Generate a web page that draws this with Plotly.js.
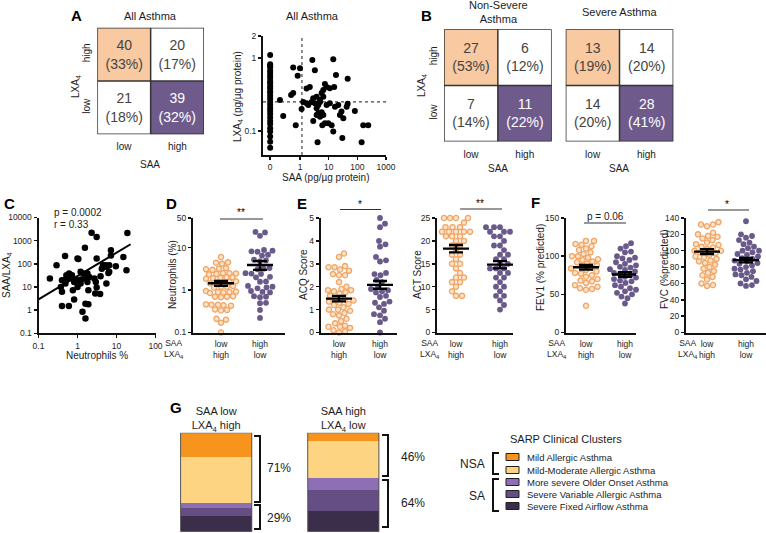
<!DOCTYPE html>
<html><head><meta charset="utf-8">
<script src="https://cdn.plot.ly/plotly-3.0.1.min.js"></script>
<style>html,body{margin:0;padding:0;background:#fff}#chart{width:766px;height:533px}</style>
</head><body><div id="chart"></div>
<script>
// ================= DATA =================
const levels = ['low', 'high'];
// 2x2 tables: rows = LXA4 [low, high], cols = SAA [low, high]
const countsAll = [[21, 39], [40, 20]];
const pctAll    = [[18, 32], [33, 17]];
const countsNSA = [[7, 11], [27, 6]];
const pctNSA    = [[14, 22], [53, 12]];
const countsSA  = [[14, 28], [13, 14]];
const pctSA     = [[20, 41], [19, 20]];
const cellClass = [[0, 2], [1, 0]]; // 0 = plain, 1 = SAA low/LXA4 high, 2 = SAA high/LXA4 low

// Panel A scatter (pg/ug protein)
const lxaAtSaaZero = [1.10, 0.82, 0.78, 0.74, 0.67, 0.62, 0.57, 0.53, 0.48, 0.45, 0.41, 0.385, 0.35, 0.33, 0.30, 0.275, 0.25, 0.227, 0.205, 0.188, 0.17, 0.153, 0.137, 0.124, 0.109, 0.098, 0.084, 0.071, 0.059];
const saaA = [0.2, 0.26, 0.58, 0.83, 1.0, 0.49, 0.58, 0.71, 1.14, 2.7, 3.3, 1.7, 2.2, 1.3, 1.7, 1.95, 2.55, 2.9, 3.3, 3.8, 4.35, 3.8, 5, 5.7, 6.5, 7.4, 6.5, 8.5, 11, 15.6, 14.5, 18, 46, 4.35, 5, 5.7, 3.8, 6.5, 2.9, 6.0, 7.4, 9.7, 8.5, 11, 16.6, 21.6, 28, 24.7, 32.4, 42.5, 46, 82, 30, 14.5, 4.1, 141, 161, 240, 12.7, 5];
const lxaA = [0.266, 0.16, 0.74, 0.57, 0.72, 0.31, 0.33, 0.12, 0.2, 0.94, 0.68, 0.38, 0.40, 0.25, 0.24, 0.227, 0.25, 0.28, 0.24, 0.295, 0.227, 0.205, 0.25, 0.33, 0.365, 0.44, 0.295, 0.40, 0.385, 0.40, 0.96, 0.585, 0.52, 0.175, 0.157, 0.18, 0.165, 0.165, 0.137, 0.12, 0.127, 0.127, 0.227, 0.24, 0.215, 0.227, 0.184, 0.165, 0.149, 0.215, 0.236, 0.188, 0.08, 0.098, 0.07, 0.07, 0.12, 0.12, 0.12, 0.265];
const saaCut = 1.17, lxaCut = 0.25;

// Panel C
const neutC = [0.196, 0.29, 0.48, 0.40, 0.49, 0.375, 0.40, 0.49, 0.61, 0.61, 0.72, 0.52, 0.82, 0.76, 0.82, 0.40, 0.6, 1.0, 1.05, 1.2, 1.0, 1.0, 1.2, 1.25, 1.4, 1.55, 1.8, 1.6, 1.8, 2.0, 1.6, 1.34, 1.9, 1.6, 1.9, 2.3, 3.1, 2.7, 2.95, 2.85, 3.1, 3.1, 3.8, 3.9, 4.2, 4.5, 5.3, 5.5, 6.2, 6.5, 7.2, 7.2, 6.5, 9.6, 5.5, 15, 18, 19];
const ratioC = [23, 87, 220, 19.7, 21, 10, 6.2, 14, 23, 38, 32, 32, 16.6, 7.3, 2.9, 1.5, 1.5, 169, 160, 45, 19.7, 10, 14, 21, 38, 500, 38, 23, 16.6, 27, 1.9, 0.85, 1.8, 0.44, 7.3, 2200, 1440, 23, 16.6, 5.2, 169, 9.5, 5.0, 29, 62, 87, 87, 14, 40, 87, 385, 231, 45, 79, 75, 198, 53, 2150];
const fitX = [0.1, 23], fitY = [2.9, 700];
const statsC = ['p = 0.0002', 'r = 0.33'];

// Panel D-F groups: [SAA low / LXA4 high, SAA high / LXA4 low]
const neutLow = [6.0, 4.4, 4.2, 4.5, 3.2, 3.3, 3.1, 3.0, 2.5, 2.4, 2.45, 2.35, 2.5, 2.0, 1.9, 1.95, 1.85, 2.0, 1.5, 1.55, 1.45, 1.5, 1.6, 1.2, 1.25, 1.15, 1.2, 0.9, 0.92, 0.88, 0.95, 0.9, 0.85, 0.7, 0.72, 0.68, 0.7, 0.45, 0.44, 0.46, 0.45, 0.43, 0.34, 0.33, 0.35, 0.21, 0.2, 0.17, 0.1];
const neutHigh = [22.8, 23.5, 19, 8.5, 8.2, 8.8, 8.0, 6.5, 6.8, 5.0, 5.2, 4.8, 3.2, 3.3, 3.1, 2.45, 2.5, 2.4, 2.05, 2.0, 1.57, 1.6, 1.2, 1.15, 1.25, 1.1, 0.91, 0.88, 0.95, 0.7, 0.72, 0.68, 0.49, 0.5, 0.34, 0.22];
const neutMean = [1.45, 3.9], neutSem = [0.2, 0.9];
const acqLow = [3.45, 3.3, 2.9, 2.85, 2.85, 2.75, 2.7, 2.55, 2.5, 2.5, 2.2, 2.0, 1.9, 1.85, 1.85, 1.8, 1.75, 1.7, 1.6, 1.5, 1.45, 1.4, 1.35, 1.3, 1.25, 1.2, 1.1, 1.0, 1.0, 0.95, 0.85, 0.8, 0.75, 0.6, 0.5, 0.4, 0.3, 0.25, 0.25, 0.2, 0.1, 0.05, 0.0];
const acqHigh = [5.0, 4.75, 4.6, 4.0, 3.85, 3.75, 3.3, 3.15, 3.1, 2.6, 2.55, 2.5, 2.3, 2.2, 2.0, 1.9, 1.85, 1.8, 1.75, 1.6, 1.55, 1.35, 1.3, 1.25, 1.1, 0.95, 0.8, 0.75, 0.6, 0.45, 0.0];
const acqMean = [1.48, 2.08], acqSem = [0.12, 0.17];
const actLow = [25, 25, 25, 25, 24, 23, 23, 23, 22, 22, 22, 22, 22, 21, 21, 21, 20, 20, 19, 19, 18, 17, 17, 16, 15, 15, 14, 13, 12, 12, 11, 11, 10, 9, 8, 8];
const actHigh = [23, 23, 23, 23, 22, 22, 22, 21, 21, 20, 19, 19, 18, 17, 17, 16, 16, 15, 15, 14, 14, 14, 13, 13, 12, 12, 11, 10, 10, 9, 8, 8, 7, 6, 5];
const actMean = [18.3, 14.8], actSem = [0.8, 0.8];
const fevLow = [120, 120, 116, 115, 113, 110, 108, 105, 103, 100, 100, 98, 96, 95, 93, 92, 90, 88, 87, 85, 84, 82, 80, 78, 77, 75, 73, 70, 68, 67, 65, 62, 60, 58, 57, 56, 35];
const fevHigh = [117, 113, 110, 106, 105, 100, 98, 97, 95, 92, 90, 88, 86, 85, 83, 82, 80, 78, 77, 75, 73, 72, 70, 68, 67, 65, 63, 62, 60, 58, 56, 54, 52, 50, 47, 45, 38];
const fevMean = [85.5, 76], fevSem = [3, 3];
const fvcLow = [135, 132, 132, 130, 122, 120, 118, 117, 115, 113, 110, 108, 107, 105, 104, 102, 100, 100, 98, 97, 95, 93, 92, 90, 88, 87, 85, 83, 80, 78, 75, 73, 70, 68, 65, 60, 58, 57];
const fvcHigh = [136, 120, 118, 116, 113, 110, 108, 105, 103, 100, 100, 98, 96, 95, 93, 91, 90, 88, 87, 85, 84, 82, 80, 78, 77, 75, 73, 71, 70, 68, 65, 63, 60, 58, 57];
const fvcMean = [99, 88.5], fvcSem = [3, 2.8];

// Panel G
const groupLabels = ['SAA low<br>LXA<sub>4</sub> high', 'SAA high<br>LXA<sub>4</sub> low'];
const clusters = ['Mild Allergic Asthma', 'Mild-Moderate Allergic Asthma', 'More severe Older Onset Asthma', 'Severe Variable Allergic Asthma', 'Severe Fixed Airflow Asthma'];
const clusterColors = ['#F7941E', '#FDD481', '#8E6FB5', '#654E83', '#3A2E4A'];
const pctLowHigh = [25, 46, 5, 8, 16];
const pctHighLow = [8, 38, 12, 21, 21];
const nsaLabels = ['71%', '46%'], saLabels = ['29%', '64%'];

// ================= LAYOUT HELPERS =================
const W = 766, H = 533;
const FONT = '"Liberation Sans", Arial, Helvetica, sans-serif';
const TXT = '#1c1c1c';
const ORANGE_CELL = '#F9C9A1', PURPLE_CELL = '#6E5B8C';
const DOT_OR_FILL = '#FDE2C6', DOT_OR_LINE = '#EFA566', DOT_PU = '#6A5A8B';
const TICKF = {size: 8.5, color: TXT};
const traces = [];
const layout = {
  width: W, height: H, margin: {l: 0, r: 0, t: 0, b: 0, pad: 0},
  paper_bgcolor: '#ffffff', plot_bgcolor: 'rgba(0,0,0,0)',
  font: {family: FONT, size: 9, color: TXT},
  showlegend: false, barmode: 'stack', annotations: [], shapes: []
};
const px = x => x / W, py = y => 1 - y / H;
function axName(n, c) { return c + 'axis' + (n === 1 ? '' : n); }
function axId(n, c) { return c + (n === 1 ? '' : n); }
function setAxes(n, xpx, ypx, xopt, yopt) {
  layout[axName(n, 'x')] = Object.assign({domain: [px(xpx[0]), px(xpx[1])], anchor: axId(n, 'y'), showgrid: false, zeroline: false, fixedrange: true}, xopt);
  layout[axName(n, 'y')] = Object.assign({domain: [py(ypx[1]), py(ypx[0])], anchor: axId(n, 'x'), showgrid: false, zeroline: false, fixedrange: true}, yopt);
}
function ann(text, x, y, opts) {
  layout.annotations.push(Object.assign({text: text, x: px(x), y: py(y), xref: 'paper', yref: 'paper', showarrow: false, xanchor: 'center', yanchor: 'middle', font: {size: 10, color: TXT}}, opts || {}));
}
function lineP(x0, y0, x1, y1, w, c) {
  layout.shapes.push({type: 'line', xref: 'paper', yref: 'paper', x0: px(x0), y0: py(y0), x1: px(x1), y1: py(y1), line: {color: c || '#333', width: w || 1.2}});
}
function bracket(xEdge, xTip, y0, y1, w) {
  layout.shapes.push({type: 'path', xref: 'paper', yref: 'paper', line: {color: '#111', width: w || 2},
    path: 'M' + px(xEdge) + ',' + py(y0) + ' L' + px(xTip) + ',' + py(y0) + ' L' + px(xTip) + ',' + py(y1) + ' L' + px(xEdge) + ',' + py(y1)});
}
const axisLine = {showline: true, linewidth: 2, linecolor: '#111'};
const yTicks = {ticks: 'outside', ticklen: 3, tickwidth: 1.5, tickcolor: '#111', tickfont: TICKF};

// ================= 2x2 TABLES =================
function table(n, xpx, ypx, counts, pcts, showY) {
  traces.push({type: 'heatmap', xaxis: axId(n, 'x'), yaxis: axId(n, 'y'), x: [0, 1], y: [0, 1], z: cellClass,
    text: counts.map((r, i) => r.map((c, j) => c + '<br>(' + pcts[i][j] + '%)')), texttemplate: '%{text}',
    textfont: {size: 14, family: FONT}, zmin: 0, zmax: 2, showscale: false, hoverinfo: 'skip',
    colorscale: [[0, '#ffffff'], [0.33, '#ffffff'], [0.34, ORANGE_CELL], [0.66, ORANGE_CELL], [0.67, PURPLE_CELL], [1, PURPLE_CELL]]});
  setAxes(n, xpx, ypx,
    {range: [-0.5, 1.5], tickvals: [0, 1], ticktext: levels, ticks: 'outside', ticklen: 3, tickcolor: 'rgba(0,0,0,0)', tickfont: {size: 10, color: TXT}},
    {range: [-0.5, 1.5], tickvals: [0, 1], ticktext: levels, showticklabels: showY, tickangle: -90, ticks: 'outside', ticklen: 2, tickcolor: 'rgba(0,0,0,0)', tickfont: {size: 10, color: TXT}});
  const xr = axId(n, 'x'), yr = axId(n, 'y');
  layout.shapes.push({type: 'rect', xref: xr, yref: yr, x0: -0.5, x1: 1.5, y0: -0.5, y1: 1.5, line: {color: '#333', width: 1.5}});
  layout.shapes.push({type: 'line', xref: xr, yref: yr, x0: 0.5, x1: 0.5, y0: -0.5, y1: 1.5, line: {color: '#333', width: 1.5}});
  layout.shapes.push({type: 'line', xref: xr, yref: yr, x0: -0.5, x1: 1.5, y0: 0.5, y1: 0.5, line: {color: '#333', width: 1.5}});
}
table(1, [97.3, 204], [27.7, 134.3], countsAll, pctAll, true);
table(3, [444, 551.7], [29.3, 141.5], countsNSA, pctNSA, true);
table(4, [565.7, 673.3], [29.3, 141.5], countsSA, pctSA, false);
ann('All Asthma', 150, 16, {font: {size: 11, color: TXT}});
ann('SAA', 150, 164, {font: {size: 10, color: TXT}});
ann('LXA<sub>4</sub>', 76, 87, {textangle: -90, font: {size: 10, color: TXT}});
ann('Non-Severe<br>Asthma', 498, 12, {font: {size: 11, color: TXT}});
ann('Severe Asthma', 619, 12, {font: {size: 11, color: TXT}});
ann('SAA', 498, 168, {font: {size: 10, color: TXT}});
ann('SAA', 619, 168, {font: {size: 10, color: TXT}});
ann('LXA<sub>4</sub>', 422, 86, {textangle: -90, font: {size: 10, color: TXT}});

// ================= SCATTER A =================
const zeroPos = -1.04; // broken-axis slot where SAA = 0 sits
const xA = v => v === 0 ? zeroPos : Math.log10(v);
const yRangeA = [-1.33, Math.log10(2)];
setAxes(2, [263, 386], [36, 155],
  Object.assign({range: [-1.29, 3.0], tickvals: [zeroPos, 0, 1, 2, 3], ticktext: ['0', '1', '10', '100', '1000'], ticks: 'outside', ticklen: 3, tickwidth: 1.5, tickcolor: '#111', tickfont: TICKF}, axisLine),
  Object.assign({type: 'log', range: yRangeA, tickvals: [0.1, 1, 2], ticktext: ['0.1', '1', '2']}, yTicks, axisLine));
traces.push({type: 'scatter', mode: 'lines', xaxis: 'x2', yaxis: 'y2', x: [xA(saaCut), xA(saaCut)], y: [Math.pow(10, yRangeA[0]), 2], line: {color: '#444', width: 1.2, dash: 'dot'}, hoverinfo: 'skip'});
traces.push({type: 'scatter', mode: 'lines', xaxis: 'x2', yaxis: 'y2', x: [-1.29, 3.0], y: [lxaCut, lxaCut], line: {color: '#444', width: 1.2, dash: 'dot'}, hoverinfo: 'skip', cliponaxis: false});
traces.push({type: 'scatter', mode: 'markers', xaxis: 'x2', yaxis: 'y2', x: lxaAtSaaZero.map(() => xA(0)), y: lxaAtSaaZero, marker: {color: '#000', size: 6}, cliponaxis: false});
traces.push({type: 'scatter', mode: 'markers', xaxis: 'x2', yaxis: 'y2', x: saaA.map(xA), y: lxaA, marker: {color: '#000', size: 6}, cliponaxis: false});
ann('All Asthma', 312, 16, {font: {size: 11, color: TXT}});
ann('SAA (pg/µg protein)', 325, 177, {font: {size: 10, color: TXT}});
ann('LXA<sub>4</sub> (pg/µg protein)', 238, 97, {textangle: -90, font: {size: 10, color: TXT}});

// ================= PANEL C =================
setAxes(5, [38.5, 155.5], [217.5, 333.3],
  Object.assign({type: 'log', range: [-1, 2], tickvals: [0.1, 1, 10, 100], ticktext: ['0.1', '1', '10', '100'], ticks: 'outside', ticklen: 3, tickwidth: 1.5, tickcolor: '#111', tickfont: TICKF}, axisLine),
  Object.assign({type: 'log', range: [-1, 4], tickvals: [0.1, 1, 10, 100, 1000, 10000], ticktext: ['0.1', '1', '10', '100', '1000', '10000']}, yTicks, axisLine));
traces.push({type: 'scatter', mode: 'markers', xaxis: 'x5', yaxis: 'y5', x: neutC, y: ratioC, marker: {color: '#000', size: 6.5}, cliponaxis: false});
traces.push({type: 'scatter', mode: 'lines', xaxis: 'x5', yaxis: 'y5', x: fitX, y: fitY, line: {color: '#000', width: 2}});
ann(statsC[0], 52, 213, {xanchor: 'left', font: {size: 10, color: TXT}});
ann(statsC[1], 52, 224, {xanchor: 'left', font: {size: 10, color: TXT}});
ann('SAA/LXA<sub>4</sub>', 7, 275, {textangle: -90, font: {size: 10, color: TXT}});
ann('Neutrophils %', 97, 355, {font: {size: 10, color: TXT}});

// ================= DOT PLOTS D-F =================
function swarm(values, yToPx, diam, maxHalf) {
  const order = values.map((v, i) => i).sort((a, b) => values[a] - values[b]);
  const placed = [], out = new Array(values.length);
  for (const i of order) {
    const yp = yToPx(values[i]);
    let best = 0, bestD = -1;
    for (let k = 0; k < 4 * maxHalf + 1; k++) {
      const cand = (k % 2 === 1 ? 1 : -1) * Math.ceil(k / 2) * 0.5;
      let minD = Infinity;
      for (const p of placed) {
        const dx = p[0] - cand, dy = p[1] - yp;
        minD = Math.min(minD, dx * dx + dy * dy);
      }
      if (minD >= diam * diam) { best = cand; bestD = minD; break; }
      if (minD > bestD) { bestD = minD; best = cand; }
    }
    placed.push([best, yp]);
    out[i] = best;
  }
  return out;
}
function dotPanel(n, cfg) {
  const unit = cfg.cats[1] - cfg.cats[0];
  const xr = [-(cfg.cats[0] - cfg.xpx[0]) / unit, 1 + (cfg.xpx[1] - cfg.cats[1]) / unit];
  const hPx = cfg.ypx[1] - cfg.ypx[0];
  const isLog = cfg.yType === 'log';
  const yToPx = v => ((isLog ? Math.log10(v) : v) - cfg.yRange[0]) / (cfg.yRange[1] - cfg.yRange[0]) * hPx;
  setAxes(n, cfg.xpx, cfg.ypx,
    Object.assign({range: xr, tickvals: [0, 1], ticktext: cfg.xticks, ticks: '', ticklabelstandoff: 2, tickfont: TICKF}, axisLine),
    Object.assign({type: cfg.yType || 'linear', range: cfg.yRange, tickvals: cfg.tickvals, ticktext: cfg.tickvals.map(String)}, yTicks, axisLine));
  const groups = [cfg.low, cfg.high];
  groups.forEach((vals, g) => {
    const offs = swarm(vals, yToPx, 5.8, 15);
    traces.push({type: 'scatter', mode: 'markers', xaxis: axId(n, 'x'), yaxis: axId(n, 'y'),
      x: offs.map(o => g + o / unit), y: vals, cliponaxis: false,
      marker: g === 0 ? {size: 5.2, color: DOT_OR_FILL, line: {color: DOT_OR_LINE, width: 1.3}} : {size: 5.8, color: DOT_PU, line: {width: 0}}});
  });
  const hm = 13 / unit, hs = 7 / unit, xs = [], ys = [];
  cfg.mean.forEach((m, g) => {
    const s = cfg.sem[g];
    xs.push(g - hm, g + hm, null, g - hs, g + hs, null, g - hs, g + hs, null, g, g, null);
    ys.push(m, m, null, m + s, m + s, null, m - s, m - s, null, m - s, m + s, null);
  });
  traces.push({type: 'scatter', mode: 'lines', xaxis: axId(n, 'x'), yaxis: axId(n, 'y'), x: xs, y: ys, line: {color: '#000', width: 2.3}, hoverinfo: 'skip', cliponaxis: false});
}
const xtk = ['low<br>high', 'high<br>low'];
dotPanel(6, {xpx: [193, 285], cats: [221, 260], ypx: [218, 332.5], yType: 'log', yRange: [-1, Math.log10(50)], tickvals: [0.1, 1, 10, 50], low: neutLow, high: neutHigh, mean: neutMean, sem: neutSem, xticks: xtk});
dotPanel(7, {xpx: [320.7, 397], cats: [339, 380], ypx: [218, 332.5], yRange: [0, 5], tickvals: [0, 1, 2, 3, 4, 5], low: acqLow, high: acqHigh, mean: acqMean, sem: acqSem, xticks: xtk});
dotPanel(8, {xpx: [437, 513], cats: [456, 500], ypx: [218, 332.5], yRange: [0, 25], tickvals: [0, 5, 10, 15, 20, 25], low: actLow, high: actHigh, mean: actMean, sem: actSem, xticks: xtk});
dotPanel(9, {xpx: [566, 636], cats: [586, 625], ypx: [218, 332.5], yRange: [0, 150], tickvals: [0, 50, 100, 150], low: fevLow, high: fevHigh, mean: fevMean, sem: fevSem, xticks: xtk});
dotPanel(10, {xpx: [686, 766], cats: [707, 746], ypx: [218, 332.5], yRange: [0, 140], tickvals: [0, 20, 40, 60, 80, 100, 120, 140], low: fvcLow, high: fvcHigh, mean: fvcMean, sem: fvcSem, xticks: xtk});

// row labels
[174, 430, 557, 688].forEach(x => ann('SAA<br>LXA<sub>4</sub>', x, 349, {font: {size: 8.5, color: TXT}}));
// y titles
ann('Neutrophils (%)', 172, 275, {textangle: -90});
ann('ACQ Score', 303, 275, {textangle: -90});
ann('ACT Score', 417, 275, {textangle: -90});
ann('FEV1 (% predicted)', 540, 268, {textangle: -90});
ann('FVC (%predicted)', 664, 270, {textangle: -90});
// significance
ann('**', 241, 212, {font: {size: 10, color: '#000'}}); lineP(220, 219, 263, 219, 1);
ann('*', 360, 204, {font: {size: 10, color: '#000'}}); lineP(340, 209.5, 381, 209.5, 1);
ann('**', 480, 203, {font: {size: 10, color: '#000'}}); lineP(460, 209, 502, 209, 1);
ann('p = 0.06', 605, 216, {font: {size: 10, color: TXT}}); lineP(584, 223, 626, 223, 1);
ann('*', 727, 204, {font: {size: 10, color: '#000'}}); lineP(708, 210, 749, 210, 1);

// ================= PANEL G =================
setAxes(11, [160, 400], [432.7, 531.7],
  {range: [-0.442, 1.446], side: 'top', tickvals: [0, 1], ticktext: groupLabels, ticks: '', showline: false, tickfont: {size: 11, color: TXT}},
  {range: [0, 100], visible: false});
for (let k = clusters.length - 1; k >= 0; k--) {
  traces.push({type: 'bar', xaxis: 'x11', yaxis: 'y11', x: [0, 1], y: [pctLowHigh[k], pctHighLow[k]], width: 0.56, name: clusters[k], marker: {color: clusterColors[k], line: {width: 0}}, hoverinfo: 'skip'});
}
[0, 1].forEach(g => layout.shapes.push({type: 'rect', xref: 'x11', yref: 'y11', x0: g - 0.28, x1: g + 0.28, y0: 0, y1: 100, line: {color: '#555', width: 1}}));
bracket(254, 260, 436, 502); ann(nsaLabels[0], 279, 468, {font: {size: 12, color: TXT}});
bracket(254, 260, 505, 529); ann(saLabels[0], 279, 518, {font: {size: 12, color: TXT}});
bracket(382, 388, 435, 476); ann(nsaLabels[1], 413, 457, {font: {size: 12, color: TXT}});
bracket(382, 388, 480, 527); ann(saLabels[1], 413, 503, {font: {size: 12, color: TXT}});
// cluster key
ann('SARP Clinical Clusters', 566, 439, {font: {size: 11, color: TXT}});
const keyY = [457, 470, 482, 494, 506];
clusters.forEach((c, k) => {
  layout.shapes.push({type: 'rect', xref: 'paper', yref: 'paper', x0: px(506), x1: px(519), y0: py(keyY[k] + 3.5), y1: py(keyY[k] - 3.5), fillcolor: clusterColors[k], line: {color: '#222', width: 1}});
  ann(c, 525, keyY[k], {xanchor: 'left', font: {size: 9.5, color: TXT}});
});
bracket(499, 493, 453, 474); ann('NSA', 472, 464, {font: {size: 12, color: TXT}});
bracket(499, 493, 479, 511); ann('SA', 477, 496, {font: {size: 12, color: TXT}});

// ================= PANEL LETTERS =================
[['A', 76, 16], ['B', 426, 15], ['C', 9, 203], ['D', 171, 203], ['E', 302, 203], ['F', 535, 202], ['G', 176, 407]].forEach(l =>
  ann('<b>' + l[0] + '</b>', l[1], l[2], {font: {size: 15, color: '#000', family: FONT}}));

Plotly.newPlot('chart', traces, layout, {staticPlot: true, displayModeBar: false});
</script>
</body></html>
